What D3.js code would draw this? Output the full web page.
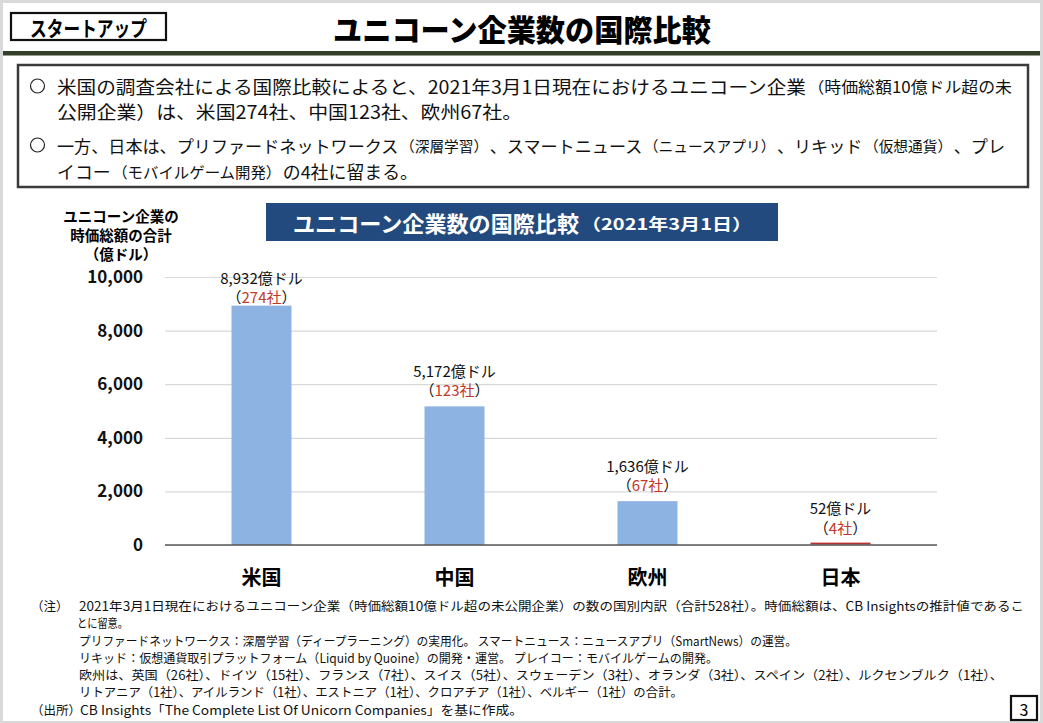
<!DOCTYPE html>
<html>
<head>
<meta charset="utf-8">
<script src="https://cdn.jsdelivr.net/npm/d3@7"></script>
<style>
  html, body { margin: 0; padding: 0; background: #fff; }
  svg { display: block; }
  text { font-family: "Noto Sans CJK JP", "Noto Sans", sans-serif; }
</style>
</head>
<body>
<svg id="chart" width="1043" height="723"></svg>
<script>
// ---------- data ----------
const categories = ["米国", "中国", "欧州", "日本"];
const values = [8932, 5172, 1636, 52];          // 億ドル
const counts = [274, 123, 67, 4];                // 社
const yTicks = [0, 2000, 4000, 6000, 8000, 10000];
const barColors = ["#8db3e2", "#8db3e2", "#8db3e2", "#b8312f"];

const pageTitle = "ユニコーン企業数の国際比較";
const tagLabel = "スタートアップ";
const chartTitle = "ユニコーン企業数の国際比較";
const chartSubTitle = "（2021年3月1日）";
const yTitle = ["ユニコーン企業の", "時価総額の合計", "（億ドル）"];

const bullets = [
  [["米国の調査会社による国際比較によると、2021年3月1日現在におけるユニコーン企業", 0], ["（時価総額10億ドル超の未", 1]],
  [["公開企業）は、米国274社、中国123社、欧州67社。", 0]],
  [["一方、日本は、プリファードネットワークス", 0], ["（深層学習）", 1], ["、スマートニュース", 0], ["（ニュースアプリ）", 1], ["、リキッド", 0], ["（仮想通貨）", 1], ["、プレ", 0]],
  [["イコー", 0], ["（モバイルゲーム開発）", 1], ["の4社に留まる。", 0]]
];

const notes = [
  "2021年3月1日現在におけるユニコーン企業（時価総額10億ドル超の未公開企業）の数の国別内訳（合計528社）。時価総額は、CB Insightsの推計値であるこ",
  "とに留意。",
  "プリファードネットワークス：深層学習（ディープラーニング）の実用化。 スマートニュース：ニュースアプリ（SmartNews）の運営。",
  "リキッド：仮想通貨取引プラットフォーム（Liquid by Quoine）の開発・運営。 プレイコー：モバイルゲームの開発。",
  "欧州は、英国（26社）、ドイツ（15社）、フランス（7社）、スイス（5社）、スウェーデン（3社）、オランダ（3社）、スペイン（2社）、ルクセンブルク（1社）、",
  "リトアニア（1社）、アイルランド（1社）、エストニア（1社）、クロアチア（1社）、ベルギー（1社）の合計。",
  "CB Insights「The Complete List Of Unicorn Companies」を基に作成。"
];
const noteHeads = ["（注）", "", "", "", "", "", "（出所）"];
const pageNumber = "3";

// ---------- layout ----------
const svg = d3.select("#chart");
const W = 1043, H = 723;

// page frame
svg.append("rect").attr("x", 0).attr("y", 0).attr("width", W).attr("height", H).attr("fill", "#d9d9d9");
svg.append("rect").attr("x", 3).attr("y", 3).attr("width", W - 6).attr("height", H - 5).attr("fill", "#ffffff");

// tag box
svg.append("rect").attr("x", 11).attr("y", 13).attr("width", 155).attr("height", 27)
  .attr("fill", "#fff").attr("stroke", "#111").attr("stroke-width", 2.2);
svg.append("text").attr("x", 30).attr("y", 27).attr("dominant-baseline", "central")
  .attr("font-size", 21).attr("font-weight", 700).attr("fill", "#000")
  .attr("textLength", 117).attr("lengthAdjust", "spacingAndGlyphs").text(tagLabel);

// page title
svg.append("text").attr("x", 333).attr("y", 28).attr("dominant-baseline", "central")
  .attr("font-size", 30).attr("font-weight", 900).attr("fill", "#000")
  .attr("textLength", 378).attr("lengthAdjust", "spacingAndGlyphs").text(pageTitle);

// dark green rule
svg.append("rect").attr("x", 3).attr("y", 51).attr("width", W - 6).attr("height", 4.5).attr("fill", "#343f2a");

// bullet box
svg.append("rect").attr("x", 18).attr("y", 65).attr("width", 1010).attr("height", 122)
  .attr("fill", "#fff").attr("stroke", "#3a3a3a").attr("stroke-width", 2.5);

// place a run of mixed-size segments so that it spans [x0, x1]
function placeSegments(segs, x0, x1, yy, sizes) {
  const gap = 1.5;
  const avail = x1 - x0 - gap * (segs.length - 1);
  const nodes = segs.map(s => svg.append("text").attr("y", yy).attr("dominant-baseline", "central")
      .attr("font-size", sizes[s[1]]).attr("fill", "#111").text(s[0]));
  let widths = nodes.map(n => n.node().getComputedTextLength());
  let k = avail / d3.sum(widths);
  if (k < 1) {           // shrink the font rather than squeeze the glyphs
    nodes.forEach((n, i) => n.attr("font-size", sizes[segs[i][1]] * k * 0.995));
    widths = nodes.map(n => n.node().getComputedTextLength());
    k = avail / d3.sum(widths);
  }
  let cx = x0;
  nodes.forEach((n, i) => {
    const w = widths[i] * k;
    n.attr("x", cx).attr("textLength", w).attr("lengthAdjust", "spacingAndGlyphs");
    cx += w + gap;
  });
}

const bulletY = [86, 111, 145, 171];
const bulletEnd = [1012, 522, 1005, 418];
bullets.forEach((segs, i) => {
  if (i === 0 || i === 2) {
    svg.append("circle").attr("cx", 37.5).attr("cy", bulletY[i]).attr("r", 7)
      .attr("fill", "none").attr("stroke", "#222").attr("stroke-width", 1.2);
  }
  placeSegments(segs, 57, bulletEnd[i], bulletY[i], [18, 15.5]);
});

// chart title banner
svg.append("rect").attr("x", 266).attr("y", 203).attr("width", 512).attr("height", 38).attr("fill", "#234a7e");
svg.append("text").attr("x", 293).attr("y", 222).attr("dominant-baseline", "central")
  .attr("fill", "#fff").attr("font-weight", 700).attr("font-size", 22)
  .attr("textLength", 286).attr("lengthAdjust", "spacingAndGlyphs").text(chartTitle);
svg.append("text").attr("x", 581).attr("y", 223).attr("dominant-baseline", "central")
  .attr("fill", "#fff").attr("font-weight", 700).attr("font-size", 16)
  .attr("textLength", 171).attr("lengthAdjust", "spacingAndGlyphs").text(chartSubTitle);

// y title
svg.append("g").selectAll("text").data(yTitle).join("text")
  .attr("x", 121).attr("y", (d, i) => 215 + i * 19).attr("text-anchor", "middle")
  .attr("dominant-baseline", "central").attr("font-size", 14.5).attr("font-weight", 700)
  .attr("fill", "#000").text(d => d);

// scales
const x = d3.scaleBand().domain(categories).range([165, 937])
  .paddingInner(133 / 193).paddingOuter(133 / 386);
const y = d3.scaleLinear().domain([0, 10000]).range([545, 277]);

// grid + y labels
const yAxis = svg.append("g").attr("transform", "translate(165,0)")
  .call(d3.axisLeft(y).tickValues(yTicks).tickFormat(d3.format(",")).tickSizeInner(-772).tickSizeOuter(0).tickPadding(22));
yAxis.select(".domain").remove();
yAxis.selectAll(".tick line").attr("stroke", "#d9d9d9").attr("stroke-width", 1.2);
yAxis.selectAll(".tick text").attr("font-size", 17).attr("font-weight", 700).attr("fill", "#111")
  .attr("font-family", "'Noto Sans', 'Noto Sans CJK JP', sans-serif");

// bars
svg.append("g").selectAll("rect").data(categories).join("rect")
  .attr("x", d => x(d)).attr("width", x.bandwidth())
  .attr("y", (d, i) => y(values[i]))
  .attr("height", (d, i) => Math.max(y(0) - y(values[i]), 2))
  .attr("transform", (d, i) => values[i] < 100 ? "translate(0,-1)" : null)
  .attr("fill", (d, i) => barColors[i]);

// baseline
svg.append("line").attr("x1", 165).attr("x2", 937).attr("y1", y(0)).attr("y2", y(0))
  .attr("stroke", "#595959").attr("stroke-width", 1.5);

// x labels
const xAxis = svg.append("g").attr("transform", `translate(0,${y(0)})`)
  .call(d3.axisBottom(x).tickSize(0).tickPadding(26));
xAxis.select(".domain").remove();
xAxis.selectAll(".tick text").attr("font-size", 20).attr("font-weight", 700).attr("fill", "#000")
  .attr("font-family", "'Noto Sans CJK JP', sans-serif");

// value labels
const fmt = d3.format(",");
const labelG = svg.append("g");
categories.forEach((c, i) => {
  const vy = Math.max(y(values[i]) - 36, 277);
  const cx = x(c) + x.bandwidth() / 2;
  labelG.append("text").attr("x", cx).attr("y", vy).attr("text-anchor", "middle")
    .attr("dominant-baseline", "central").attr("font-size", 15).attr("fill", "#111")
    .text(fmt(values[i]) + "億ドル");
  const t = labelG.append("text").attr("x", cx).attr("y", vy + 19).attr("text-anchor", "middle")
    .attr("dominant-baseline", "central").attr("font-size", 15).attr("fill", "#111");
  t.append("tspan").text("（");
  t.append("tspan").attr("fill", "#c0392b").text(counts[i] + "社");
  t.append("tspan").text("）");
});

// notes
const noteY = [605, 622, 640, 657, 674, 691, 709];
const noteX = [79, 77, 79, 79, 79, 79, 80];
const noteEnd = [1024, 128, 797, 718, 1003, 683, 523];
notes.forEach((n, i) => {
  if (noteHeads[i]) {
    svg.append("text").attr("x", 31).attr("y", noteY[i]).attr("dominant-baseline", "central")
      .attr("font-size", 12.5).attr("fill", "#111").text(noteHeads[i]);
  }
  svg.append("text").attr("x", noteX[i]).attr("y", noteY[i]).attr("dominant-baseline", "central")
    .attr("font-size", 12.5).attr("fill", "#111")
    .attr("textLength", noteEnd[i] - noteX[i]).attr("lengthAdjust", "spacingAndGlyphs").text(n);
});

// page number
svg.append("rect").attr("x", 1011).attr("y", 696).attr("width", 26).attr("height", 24)
  .attr("fill", "#fff").attr("stroke", "#111").attr("stroke-width", 2.2);
svg.append("text").attr("x", 1024).attr("y", 708.5).attr("text-anchor", "middle").attr("dominant-baseline", "central")
  .attr("font-size", 16).attr("fill", "#000").text(pageNumber);
</script>
</body>
</html>
